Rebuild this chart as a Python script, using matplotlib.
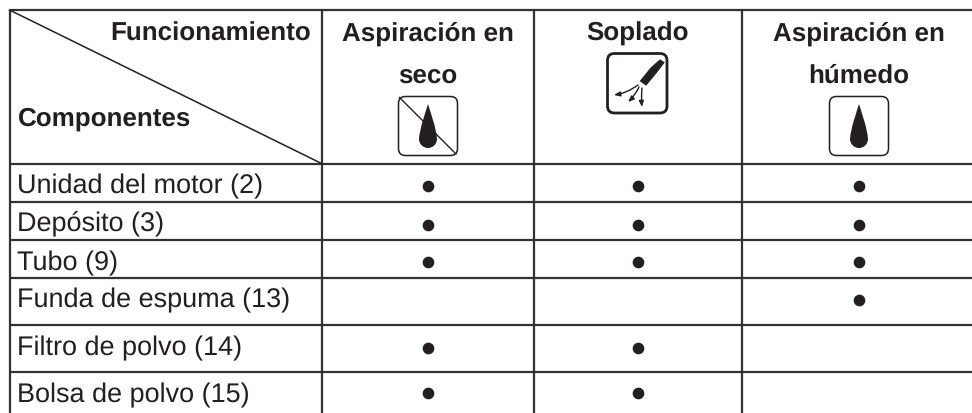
import matplotlib
matplotlib.use("Agg")
import matplotlib.pyplot as plt
from matplotlib.patches import FancyBboxPatch, PathPatch, Polygon
from matplotlib.path import Path

plt.rcParams['font.family'] = ['Liberation Sans', 'DejaVu Sans']
plt.rcParams['text.hinting'] = 'none'
plt.rcParams['text.hinting_factor'] = 1

# table content
components = ['Unidad del motor (2)', 'Depósito (3)', 'Tubo (9)',
              'Funda de espuma (13)', 'Filtro de polvo (14)', 'Bolsa de polvo (15)']
modes = ['Aspiración en\nseco', 'Soplado', 'Aspiración en\nhúmedo']
dry = [1, 1, 1, 0, 1, 1]
blow = [1, 1, 1, 0, 1, 1]
wet = [1, 1, 1, 1, 0, 0]

# grid lines in pixels
col_x = [9.5, 322, 533.5, 741.7]
row_y = [10, 163.7, 201.7, 239.7, 277.7, 324.7, 372]
dot_y = [186, 224.5, 262.3, 300.3, 348, 393]
label_base = [193.3, 231.7, 270, 307.3, 355, 402.3]
col_mid = [428, 638, 859]
line_col = '#333132'
txt_col = '#231f20'
fs_bold = 19.0
fs = 19.1

fig = plt.figure(figsize=(9.72, 4.13), dpi=100)
ax = fig.add_axes([0, 0, 1, 1])
ax.set_xlim(0, 972)
ax.set_ylim(413, 0)
ax.axis('off')

lw = 1.6
for y in row_y:
    ax.plot([col_x[0], 972], [y, y], color=line_col, lw=lw, solid_capstyle='butt')
for x in col_x:
    ax.plot([x, x], [row_y[0], 413], color=line_col, lw=lw, solid_capstyle='butt')
ax.plot([col_x[0], col_x[1]], [row_y[0], row_y[1]], color=txt_col, lw=1.1)

ax.text(311, 40.7, 'Funcionamiento', fontsize=fs_bold, fontweight='bold', color=txt_col,
        ha='right', va='baseline')
ax.text(17.5, 126, 'Componentes', fontsize=fs_bold, fontweight='bold', color=txt_col,
        ha='left', va='baseline')

# column headings, two lines spaced wide
head_y = [40.7, 82.7]
for mid, name in zip(col_mid, modes):
    for y, part in zip(head_y, name.split('\n')):
        ax.text(mid, y, part, fontsize=fs_bold, fontweight='bold', color=txt_col,
                ha='center', va='baseline')

for y, name in zip(label_base, components):
    ax.text(17, y, name, fontsize=fs, color=txt_col, ha='left', va='baseline')

for flags, mid in zip([dry, blow, wet], col_mid):
    for y, f in zip(dot_y, flags):
        if f:
            ax.plot([mid], [y], 'o', ms=8.4, color=txt_col, mew=0)


def rounded_box(x0, y0, size, lw_box):
    ax.add_patch(FancyBboxPatch((x0 + 5, y0 + 5), size - 10, size - 10,
                                boxstyle='round,pad=5,rounding_size=7',
                                fc='white', ec=txt_col, lw=lw_box))


def drop(cx, top, bottom, half):
    # teardrop with a round lower end
    low = bottom - half
    k = half * 0.55
    verts = [(cx, top), (cx + 3, top + 10), (cx + half - 1, low - 12), (cx + half, low),
             (cx + half, low + k), (cx + k, bottom), (cx, bottom),
             (cx - k, bottom), (cx - half, low + k), (cx - half, low),
             (cx - half + 1, low - 12), (cx - 3, top + 10), (cx, top), (cx, top)]
    codes = [Path.MOVETO] + [Path.CURVE4] * 12 + [Path.CLOSEPOLY]
    ax.add_patch(PathPatch(Path(verts, codes), fc=txt_col, ec='none', zorder=3))


# dry icon, crossed out
rounded_box(398.5, 96.5, 59, 1.1)
drop(428, 104, 148, 9)
ax.plot([399.5, 456], [97.5, 154], color=txt_col, lw=1.0, zorder=4)

# wet icon
rounded_box(829.5, 96.5, 59, 1.1)
drop(859, 104, 148, 9)

# blow icon
rounded_box(607.5, 53.5, 59.5, 2.0)
ax.add_patch(Polygon([(660, 60), (664, 62.5), (656, 73), (646, 85), (640.5, 81), (651, 68)],
                     fc=txt_col, ec=txt_col, lw=0.8, joinstyle='round', zorder=3))
sprays = [((638, 85), (614, 95), -0.12), ((639, 87), (628, 102), -0.1), ((642, 88), (642, 107), 0.05)]
for start, end, rad in sprays:
    ax.annotate('', xy=end, xytext=start,
                arrowprops=dict(arrowstyle='-|>,head_width=0.14,head_length=0.35',
                                color=txt_col, lw=1, shrinkA=0, shrinkB=0,
                                connectionstyle=f'arc3,rad={rad}'))

fig.savefig('out.png', dpi=100)
